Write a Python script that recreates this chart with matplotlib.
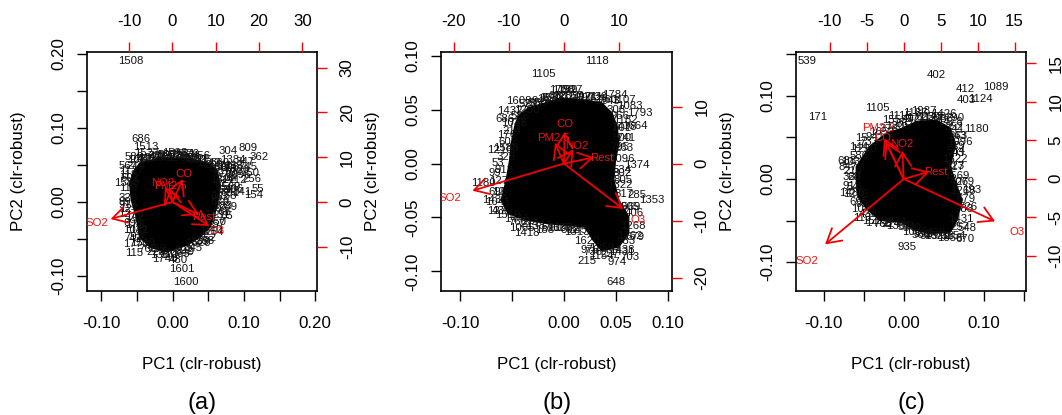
import matplotlib
matplotlib.use("Agg")
import matplotlib.pyplot as plt
from matplotlib.patches import Polygon, FancyArrowPatch

plt.rcParams['font.family'] = ['Liberation Sans', 'DejaVu Sans']

W, H = 1062, 415
variables = ["SO2", "O3", "Rest", "CO", "PM2.5", "NO2"]
fringe_ids = ("214 1037 586 1290 733 941 1652 378 1205 867 492 1711 625 1143 308 956 1478 741 263 1096 "
              "534 1322 817 1569 406 1268 679 983 1431 257 1154 738 1620 345 892 1063 571 1387 224 768 "
              "1519 436 1041 695 1276 913 328 1588 602 1177").split()

# ---- panel (a) ----
ids_a = ["1508","686","1513","1527","582","1593","1581","456","304","809","362","1384","347","1412","256","55","154","341",
         "289","65","99","792","1770","115","1740","480","1601","1600","739","849","589","652","567","118","119","127","142",
         "176","132","660","690","720","745","750","670","700","680","691","662","665","650","640","475","440","500","570","590"]
pc1_a = [-.0584,-.0444,-.0374,-.0365,-.0542,.0033,.014,.0407,.0781,.1061,.1216,.0837,.1014,.0851,.1108,.1201,.1141,.0968,
         .0781,.0757,-.0669,-.0542,-.0514,-.0533,-.0108,.0079,.0131,.0182,-.0224,.0173,.0383,.0477,-.0622,-.0622,-.0622,-.0622,-.0528,
         -.0528,-.0482,.0664,.0804,.0944,.1061,.1085,.0711,.0851,.0757,.0804,.0664,.0687,.0617,.057,-.0201,-.0365,-.0084,.0243,.0337]
pc2_a = [.1903,.085,.0747,.0657,.0603,.0657,.0643,.0621,.0688,.0724,.0612,.0567,.0535,.0297,.0306,.0175,.0094,.013,
         -.0063,-.0189,.0004,-.0477,-.0567,-.0693,-.0769,-.0783,-.0904,-.108,-.0639,-.067,-.0544,-.049,.049,.0364,.0193,-.0099,-.0198,
         -.031,-.0378,.0522,.0454,.0432,.0477,.0387,.0387,.0409,.0162,.0117,.0072,-.013,-.0265,-.0378,.0612,.0576,.0634,.0648,.0567]
fringe_pc1_a = [-.052,-.046,-.038,-.030,-.022,-.014,-.006,.002,.010,.018,.026,.034,.042,.050,.058,.064,.072,.078,.086,.092,.078,.070,.072,.078,.086,
                .072,.066,.070,.062,.060,.054,.046,.036,.028,.016,.006,-.004,-.014,-.024,-.034,-.042,-.048,-.052,-.056,-.058,-.062,-.062,-.064,-.060,-.058]
fringe_pc2_a = [.048,.056,.058,.060,.062,.060,.063,.062,.060,.062,.060,.058,.056,.052,.050,.046,.044,.048,.048,.036,.032,.030,.024,.020,.018,
                .008,.000,-.006,-.018,-.030,-.040,-.052,-.056,-.062,-.066,-.070,-.072,-.072,-.068,-.064,-.056,-.050,-.038,-.028,-.016,-.004,.006,.026,.032,.042]
core_pc1_a = [-.0552,-.0458,-.0178,.0196,.0477,.0617,.0664,.0617,.0524,.0383,.0196,-.0084,-.0318,-.0458,-.0505,-.0575,-.0598]
core_pc2_a = [.0387,.0522,.0589,.0589,.0522,.0432,.0207,-.0063,-.0333,-.0468,-.058,-.067,-.0603,-.0468,-.0198,.0027,.0252]
load_pc1_a = [-.087,.0514,.0374,.014,-.0037,-.0108]
load_pc2_a = [-.0229,-.0324,-.0175,.031,.0184,.0207]
name_pc1_a = [-.1066,.0617,.043,.0164,-.0037,-.0145]
name_pc2_a = [-.0279,-.0387,-.0207,.0378,.0216,.0252]

# ---- panel (b) ----
ids_b = ["1118","1105","1789","1788","1927","1784","1608","1432","686","1107","1083","1793","1664","1182","745","176","1216",
         "53","99","1180","12","1433","127","1446","1065","1418","188","629","1313","1374","1353","285","905","1262","974","215",
         "703","648","976","1438","1259","800","795","801","802","805","520","550","590","690","730","760","1538"]
pc1_b = [.0323,-.0197,.0011,-.0021,.0059,.0493,-.0438,-.0518,-.0567,.0573,.0637,.0734,.0685,.0589,-.0438,-.0551,-.0615,
         -.0631,-.0663,-.0775,-.0631,-.0663,-.0647,-.0454,-.0406,-.0358,-.0188,-.0021,.0123,.0701,.0846,.0701,.0637,.0637,.0515,.0226,
         .0637,.0499,.0252,.0557,.0364,.0557,.0541,.0557,.0557,.0573,-.0342,-.0246,-.0117,.0204,.0332,.0429,-.0117]
pc2_b = [.0951,.083,.0682,.0682,.0682,.0635,.058,.049,.0413,.0589,.0533,.0471,.0348,.0403,.0372,.0264,.0125,
         .0002,-.0091,-.0178,-.0261,-.0338,-.0437,-.0515,-.0601,-.0641,-.0617,-.0601,-.0638,-.0014,-.0338,-.0292,-.0406,-.0672,-.091,-.0904,
         -.0864,-.1102,-.0802,-.0802,-.0787,.0233,.0156,.0326,-.0091,-.0153,.055,.056,.0604,.0604,.062,.0589,.061]
fringe_pc1_b = [-.050,-.048,-.042,-.036,-.030,-.022,-.014,-.006,.002,.010,.018,.026,.034,.042,.050,.054,.058,.060,.058,.056,.056,.054,.058,.062,.068,
                .066,.068,.060,.056,.044,.036,.028,.022,.014,.006,-.004,-.012,-.024,-.034,-.044,-.054,-.060,-.064,-.064,-.060,-.058,-.056,-.056,-.054]
fringe_pc2_b = [.030,.038,.044,.050,.055,.058,.060,.063,.063,.063,.062,.062,.060,.058,.050,.044,.034,.024,.014,.004,-.006,-.020,-.028,-.040,-.046,
                -.058,-.068,-.072,-.082,-.084,-.086,-.082,-.072,-.062,-.062,-.060,-.060,-.058,-.056,-.054,-.048,-.044,-.036,-.026,-.016,-.006,.006,.014,.020]
core_pc1_b = [-.0438,-.0342,-.0181,-.0021,.0172,.0364,.0461,.0509,.0525,.0493,.0477,.0525,.0621,.0621,.0525,.0364,.0284,.0204,.0043,-.0149,-.0342,-.0534,-.0599,-.0551,-.0518,-.0502,-.047]
core_pc2_b = [.0434,.0512,.0558,.0604,.0589,.0558,.0465,.0342,.0187,.0032,-.0153,-.0338,-.0493,-.0648,-.0771,-.0802,-.0709,-.0586,-.057,-.0555,-.0524,-.0462,-.0338,-.0153,.0032,.0187,.0342]
load_pc1_b = [-.0881,.0573,.029,.0008,-.0085,.0091]
load_pc2_b = [-.0252,-.0422,.0057,.0295,.0193,.0131]
name_pc1_b = [-.1093,.0711,.0364,.0008,-.0101,.0124]
name_pc2_b = [-.0323,-.0524,.0054,.0366,.024,.0162]

# ---- panel (c) ----
ids_c = ["539","402","412","1089","403","1124","171","1105","1115","1180","1553","1987","1187","1426","290","252","143","79",
         "43","123","279","193","726","548","670","1356","935","560","540","408","113","1472","734","95","1486","54","68","847",
         "688","144","15"]
pc1_c = [-.1208,.0404,.0775,.115,.0788,.0954,-.1075,-.0333,-.0046,.0904,-.0108,.0246,.0142,.0496,.0642,.0621,.0663,.0683,
         .0683,.0642,.0767,.085,.0808,.0788,.0767,.0579,.0038,.0212,.01,.0413,-.0513,-.0317,-.0088,-.0525,-.065,-.0629,-.0629,-.0692,
         -.0713,-.0567,-.0525]
pc2_c = [.1419,.1251,.1082,.1106,.095,.0958,.0741,.085,.0762,.0601,.0709,.0818,.0798,.0782,.0737,.0629,.0517,.0401,
         .0317,.0156,-.004,-.0132,-.0333,-.0589,-.0717,-.0709,-.0818,-.0673,-.0589,-.0653,-.0473,-.0533,-.0513,-.0301,-.0172,-.01,.0028,.0148,
         .0216,.0389,.0489]
fringe_pc1_c = [-.064,-.062,-.056,-.050,-.044,-.036,-.028,-.018,-.008,.002,.010,.018,.026,.034,.042,.050,.058,.064,.068,.070,.066,.064,.064,.066,.070,
                .074,.078,.076,.072,.070,.062,.052,.042,.032,.024,.014,.004,-.006,-.016,-.026,-.036,-.044,-.050,-.056,-.060,-.064,-.064]
fringe_pc2_c = [.010,.020,.028,.036,.044,.050,.056,.060,.064,.066,.072,.073,.075,.075,.075,.072,.068,.060,.052,.044,.034,.024,.014,.004,-.004,
                -.014,-.024,-.036,-.048,-.058,-.068,-.069,-.069,-.069,-.066,-.064,-.058,-.056,-.054,-.054,-.050,-.042,-.036,-.028,-.018,-.008,.002]
core_pc1_c = [-.0588,-.0421,-.0213,-.0004,.0163,.0413,.0579,.0642,.0579,.0663,.0725,.0663,.0579,.0329,.0163,-.0046,-.0296,-.0463,-.0567,-.0588]
core_pc2_c = [.0148,.0389,.0549,.0609,.0689,.0701,.0609,.0429,.0148,-.0092,-.0253,-.0493,-.0633,-.0653,-.0613,-.0513,-.0493,-.0353,-.0212,-.0012]
load_pc1_c = [-.0983,.1142,.0317,-.0225,-.0246,-.0017]
load_pc2_c = [-.0786,-.0509,.0088,.0449,.0489,.0341]
name_pc1_c = [-.1213,.1413,.04,-.0263,-.0317,-.0025]
name_pc2_c = [-.0986,-.0637,.0084,.0497,.0609,.0421]

panels = [
    dict(box=(87, 317), xlim=(-.1201, .2024), ylim=(-.1197, .2024), xtop=(-19.69, 33.38), yright=(-19.78, 33.46),
         xticks=[-.1,-.05,0,.05,.1,.15,.2], xlabs=["-0.10","","0.00","","0.10","","0.20"],
         yticks=[-.1,-.05,0,.05,.1,.15,.2], ylabs=["-0.10","","0.00","","0.10","","0.20"],
         top=[-10,0,10,20,30], right=[-10,0,10,20,30],
         ids=ids_a, px=pc1_a, py=pc2_a, fx=fringe_pc1_a, fy=fringe_pc2_a, cx=core_pc1_a, cy=core_pc2_a,
         lx=load_pc1_a, ly=load_pc2_a, nx=name_pc1_a, ny=name_pc2_a, tag="(a)", tagx=202),
    dict(box=(441.3, 671.7), xlim=(-.118, .1038), ylim=(-.1179, .1034), xtop=(-22.27, 19.6), yright=(-22.28, 19.59),
         xticks=[-.1,-.05,0,.05,.1], xlabs=["-0.10","","0.00","0.05","0.10"],
         yticks=[-.1,-.05,0,.05,.1], ylabs=["-0.10","-0.05","0.00","0.05","0.10"],
         top=[-20,-10,0,10], right=[-20,-10,0,10],
         ids=ids_b, px=pc1_b, py=pc2_b, fx=fringe_pc1_b, fy=fringe_pc2_b, cx=core_pc1_b, cy=core_pc2_b,
         lx=load_pc1_b, ly=load_pc2_b, nx=name_pc1_b, ny=name_pc2_b, tag="(b)", tagx=556.7),
    dict(box=(795.7, 1025.7), xlim=(-.135, .1525), ylim=(-.1343, .1527), xtop=(-14.6, 16.49), yright=(-14.58, 16.49),
         xticks=[-.1,-.05,0,.05,.1,.15], xlabs=["-0.10","","0.00","","0.10",""],
         yticks=[-.1,-.05,0,.05,.1,.15], ylabs=["-0.10","","0.00","","0.10",""],
         top=[-10,-5,0,5,10,15], right=[-10,-5,0,5,10,15],
         ids=ids_c, px=pc1_c, py=pc2_c, fx=fringe_pc1_c, fy=fringe_pc2_c, cx=core_pc1_c, cy=core_pc2_c,
         lx=load_pc1_c, ly=load_pc2_c, nx=name_pc1_c, ny=name_pc2_c, tag="(c)", tagx=911),
]

TOP, BOTTOM = 52, 290.7
fig = plt.figure(figsize=(W/100, H/100), dpi=100)
TICK = 7.4
FS = 12.2
for p in panels:
    x0, x1 = p["box"]
    ax = fig.add_axes([x0/W, 1-BOTTOM/H, (x1-x0)/W, (BOTTOM-TOP)/H])
    ax.set_xlim(p["xlim"]); ax.set_ylim(p["ylim"])
    ax.set_xticks(p["xticks"]); ax.set_xticklabels(p["xlabs"], fontsize=FS)
    ax.set_yticks(p["yticks"]); ax.set_yticklabels(p["ylabs"], fontsize=FS, rotation=90, va="center")
    ax.tick_params(axis="x", length=TICK, width=1, pad=11, color="black")
    ax.tick_params(axis="y", length=TICK, width=1, pad=7.5, color="black")
    for s in ax.spines.values():
        s.set_linewidth(1.2)
    ax.set_xlabel("PC1 (clr-robust)", fontsize=FS, labelpad=0)
    ax.xaxis.set_label_coords(.5, -(364-BOTTOM)/(BOTTOM-TOP), transform=ax.transAxes)
    ax.xaxis.label.set_va("center")
    fig.text((x0-68.5)/W, 1-(171)/H, "PC2 (clr-robust)", rotation=90, fontsize=FS, ha="center", va="center")

    # observation labels and the saturated mass of overlapping labels
    for t, a, b in zip(p["ids"], p["px"], p["py"]):
        ax.text(a, b, t, fontsize=8.2, ha="center", va="center", color="#111111", clip_on=True)
    for t, a, b in zip(fringe_ids, p["fx"], p["fy"]):
        ax.text(a, b, t, fontsize=8.2, ha="center", va="center", color="#111111", clip_on=True)
    ax.add_patch(Polygon(list(zip(p["cx"], p["cy"])), closed=True, facecolor="black", edgecolor="black", lw=1.5, zorder=2.5))

    # loadings
    for a, b in zip(p["lx"], p["ly"]):
        ax.add_patch(FancyArrowPatch((0, 0), (a, b), arrowstyle="->,head_length=10,head_width=5.8", mutation_scale=1,
                                     color="#f00000", lw=1.3, shrinkA=0, shrinkB=0, zorder=4))
    for t, a, b in zip(variables, p["nx"], p["ny"]):
        ax.text(a, b, t, fontsize=8.2, ha="center", va="center", color="#f01010", zorder=5, clip_on=True)

    # secondary scales
    top = ax.twiny(); top.set_xlim(p["xtop"]); top.set_xticks(p["top"])
    top.set_xticklabels([str(v) for v in p["top"]], fontsize=FS)
    top.tick_params(axis="x", length=TICK, width=1, pad=9, color="#ff0000", labelcolor="black")
    right = ax.twinx(); right.set_ylim(p["yright"]); right.set_yticks(p["right"])
    right.set_yticklabels([str(v) for v in p["right"]], fontsize=FS, rotation=90, va="center")
    right.tick_params(axis="y", length=TICK, width=1, pad=9, color="#ff0000", labelcolor="black")
    for extra in (top, right):
        for s in extra.spines.values():
            s.set_visible(False)
    fig.text(p["tagx"]/W, 1-403/H, p["tag"], fontsize=17, ha="center", va="center")

fig.savefig("out.png", dpi=100)
